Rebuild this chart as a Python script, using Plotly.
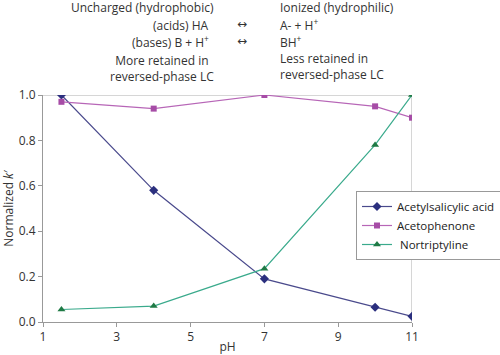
import plotly.graph_objects as go

ph = [1.5, 4, 7, 10, 11]
acetylsalicylic = [1.0, 0.58, 0.19, 0.065, 0.025]
acetophenone = [0.97, 0.94, 1.0, 0.95, 0.90]
nortriptyline = [0.055, 0.07, 0.235, 0.78, 1.0]
x_ticks = [1, 3, 5, 7, 9, 11]
y_ticks = [0.0, 0.2, 0.4, 0.6, 0.8, 1.0]

FONT = "Open Sans"
TXT = "#333333"
L, R, T, B = 43, 88, 95, 33
W, H = 500, 355
PW, PH = W - L - R, H - T - B

fig = go.Figure()
fig.add_trace(go.Scatter(x=ph, y=acetylsalicylic, name="Acetylsalicylic acid",
                         mode="lines+markers",
                         line=dict(color="#4a4a8c", width=1.2),
                         marker=dict(symbol="diamond", size=7, color="#2b2f7e")))
fig.add_trace(go.Scatter(x=ph, y=acetophenone, name="Acetophenone",
                         mode="lines+markers",
                         line=dict(color="#b766b7", width=1.2),
                         marker=dict(symbol="square", size=6, color="#a64ca6")))
fig.add_trace(go.Scatter(x=ph, y=nortriptyline, name=" Nortriptyline",
                         mode="lines+markers",
                         line=dict(color="#3aaa8c", width=1.2),
                         marker=dict(symbol="triangle-up", size=7, color="#1f7a45")))

fig.update_layout(
    width=W, height=H,
    margin=dict(l=L, r=R, t=T, b=B, autoexpand=False),
    paper_bgcolor="white", plot_bgcolor="white",
    font=dict(family=FONT, size=12, color=TXT),
    showlegend=True,
    legend=dict(x=(356 - L) / PW, y=(322 - 191) / PH, xanchor="left", yanchor="top",
                bordercolor="#999999", borderwidth=1, bgcolor="white",
                font=dict(size=11.5, color="#222222"), tracegroupgap=0,
                itemwidth=30),
    xaxis=dict(range=[1, 11], tickvals=x_ticks, showgrid=False,
               showline=True, linecolor="#999999", linewidth=1,
               ticks="outside", ticklen=4, tickcolor="#999999",
               zeroline=False, mirror=False,
               title=dict(text="pH", standoff=0, font=dict(size=12))),
    yaxis=dict(range=[0, 1.0], tickvals=y_ticks, tickformat=".1f", showgrid=False,
               showline=True, linecolor="#999999", linewidth=1,
               ticks="outside", ticklen=4, tickcolor="#999999",
               zeroline=False,
               title=dict(text="Normalized <i>k</i>′", standoff=4, font=dict(size=12))),
)

# top and right border lines
fig.add_shape(type="line", xref="paper", yref="y", x0=0, x1=1, y0=1.0, y1=1.0,
              line=dict(color="#c8c8c8", width=1.5), layer="below")
fig.add_shape(type="line", xref="x", yref="paper", x0=11, x1=11, y0=0, y1=1,
              line=dict(color="#c8c8c8", width=1.5), layer="below")

ann = [
    (142, 7, "Uncharged (hydrophobic)", "center", 12, FONT),
    (278, 7, "Ionized (hydrophilic)", "left", 12, FONT),
    (211, 25, "(acids) HA", "right", 12, FONT),
    (278, 25, "A- + H<sup>+</sup>", "left", 12, FONT),
    (211, 42, "(bases) B + H<sup>+</sup>", "right", 12, FONT),
    (278, 42, "BH<sup>+</sup>", "left", 12, FONT),
    (162, 68, "More retained in<br>reversed-phase LC", "center", 12, FONT),
    (278, 67, "Less retained in<br>reversed-phase LC", "left", 12, FONT),
    (242, 24, "↔", "center", 12, "DejaVu Sans"),
    (242, 41, "↔", "center", 12, "DejaVu Sans"),
]
for x, y, t, al, sz, fam in ann:
    fig.add_annotation(x=(x - L) / PW, y=(H - B - y) / PH, xref="paper", yref="paper",
                       text=t, showarrow=False, xanchor=al, yanchor="middle", align=al,
                       font=dict(size=sz, color=TXT, family=fam))

fig.write_html("out.html", config={"displayModeBar": False},
               post_script="document.body.style.margin='0';")
